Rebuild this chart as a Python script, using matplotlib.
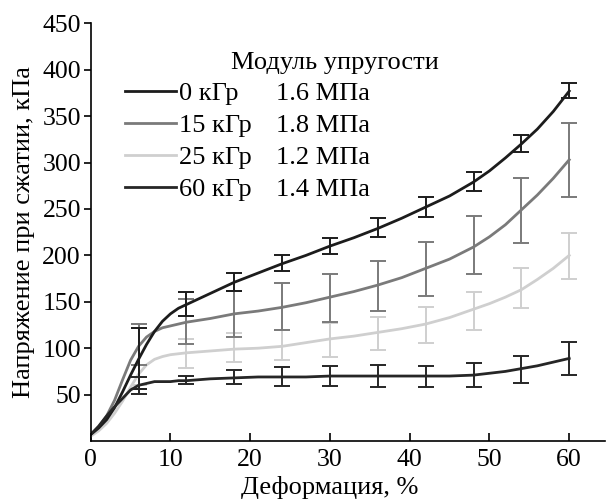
import matplotlib
matplotlib.use("Agg")
import matplotlib.pyplot as plt
from matplotlib.lines import Line2D

plt.rcParams["font.family"] = ["Liberation Serif", "DejaVu Serif"]

# strain values (%) for the smooth curves
strain = [0, 1, 2, 3, 4, 5, 6, 7, 8, 9, 10, 11, 12, 15, 18, 21, 24, 27, 30,
          33, 36, 39, 42, 45, 48, 50, 52, 54, 56, 58, 60]

curve_0 = [7, 14, 23, 36, 53, 71, 88, 104, 118, 129, 137, 143, 147, 159, 171,
           181, 191, 200, 210, 219, 229, 240, 252, 264, 279, 291, 305, 320, 336, 355, 377]
curve_15 = [7, 15, 27, 44, 66, 87, 102, 112, 118, 122, 124, 126, 128, 132, 137,
            140, 144, 149, 155, 161, 168, 176, 186, 196, 209, 220, 233, 249, 265, 283, 303]
curve_25 = [5, 11, 19, 30, 43, 58, 72, 82, 88, 91, 93, 94, 95, 97, 99,
            100, 102, 106, 110, 113, 117, 121, 126, 133, 142, 148, 155, 163, 174, 186, 200]
curve_60 = [7, 16, 27, 37, 46, 55, 60, 62, 64, 64, 64, 65, 65, 67, 68,
            69, 69, 69, 70, 70, 70, 70, 70, 70, 71, 73, 75, 78, 81, 85, 89]

# measured points with error bars
strain_pts = [6, 12, 18, 24, 30, 36, 42, 48, 54, 60]
mean_0 = [88, 147, 171, 191, 210, 229, 252, 279, 320, 377]
lo_0 = [56, 135, 162, 183, 201, 220, 241, 269, 311, 370]
hi_0 = [122, 160, 181, 200, 219, 240, 263, 290, 330, 386]
mean_15 = [102, 128, 137, 144, 155, 168, 186, 209, 249, 303]
lo_15 = [82, 105, 112, 120, 128, 140, 156, 180, 213, 263]
hi_15 = [126, 153, 162, 170, 180, 194, 214, 242, 283, 343]
mean_25 = [72, 95, 99, 102, 110, 117, 126, 142, 163, 200]
lo_25 = [60, 79, 85, 87, 91, 98, 106, 120, 143, 175]
hi_25 = [82, 110, 116, 120, 127, 134, 144, 161, 186, 224]
mean_60 = [60, 65, 68, 69, 70, 70, 70, 71, 78, 89]
lo_60 = [51, 61, 61, 59, 59, 58, 58, 58, 62, 71]
hi_60 = [69, 70, 76, 80, 81, 82, 81, 84, 92, 107]

doses = ["0 кГр", "15 кГр", "25 кГр", "60 кГр"]
moduli = ["1.6 МПа", "1.8 МПа", "1.2 МПа", "1.4 МПа"]
colors = ["#1c1c1c", "#7a7a7a", "#cfcfcf", "#262626"]

FS = 19
TICK_FS = 18.5

fig = plt.figure(figsize=(6.07, 4.99), dpi=100)
ax = fig.add_axes([0.1494, 0.1162, 0.8475, 0.8371])

series = [
    (curve_25, mean_25, lo_25, hi_25, colors[2]),
    (curve_15, mean_15, lo_15, hi_15, colors[1]),
    (curve_0, mean_0, lo_0, hi_0, colors[0]),
    (curve_60, mean_60, lo_60, hi_60, colors[3]),
]
for curve, mean, lo, hi, c in series:
    yerr = [[m - l for m, l in zip(mean, lo)], [h - m for m, h in zip(mean, hi)]]
    ax.errorbar(strain_pts, mean, yerr=yerr, fmt="none", ecolor=c,
                elinewidth=1.4, capsize=6, capthick=1.4)
    ax.plot(strain, curve, color=c, lw=2.0)

ax.set_xlim(0, 64.5)
ax.set_ylim(0, 450)
ax.set_xticks(range(0, 61, 10))
ax.set_yticks(range(50, 451, 50))
ax.spines["top"].set_visible(False)
ax.spines["right"].set_visible(False)
for s in ("left", "bottom"):
    ax.spines[s].set_linewidth(1.2)
ax.tick_params(axis="x", direction="in", length=6, width=1.2,
               labelsize=TICK_FS, pad=6)
ax.tick_params(axis="y", direction="out", length=5, width=1.2,
               labelsize=TICK_FS, pad=2)

ax.set_xlabel("Деформация, %", fontsize=FS, labelpad=0)
ax.xaxis.set_label_coords(30 / 64.5, -0.083)
ax.set_ylabel("Напряжение при сжатии, кПа", fontsize=FS, labelpad=5)

# legend: dose column with line handles, modulus column without handles
handles = [Line2D([], [], color=c, lw=2.0) for c in colors]
blanks = [Line2D([], [], color="none") for _ in colors]
ax.legend(handles + blanks, doses + moduli, ncol=2, frameon=False,
          loc="upper left", bbox_to_anchor=(0.067, 0.861), borderpad=0,
          borderaxespad=0, fontsize=FS, handlelength=1.93, handletextpad=0.12,
          columnspacing=-1.14, labelspacing=0.33)
ax.text(0.475, 0.904, "Модуль упругости", transform=ax.transAxes,
        ha="center", va="center", fontsize=FS)

fig.savefig("out.png", dpi=100)
